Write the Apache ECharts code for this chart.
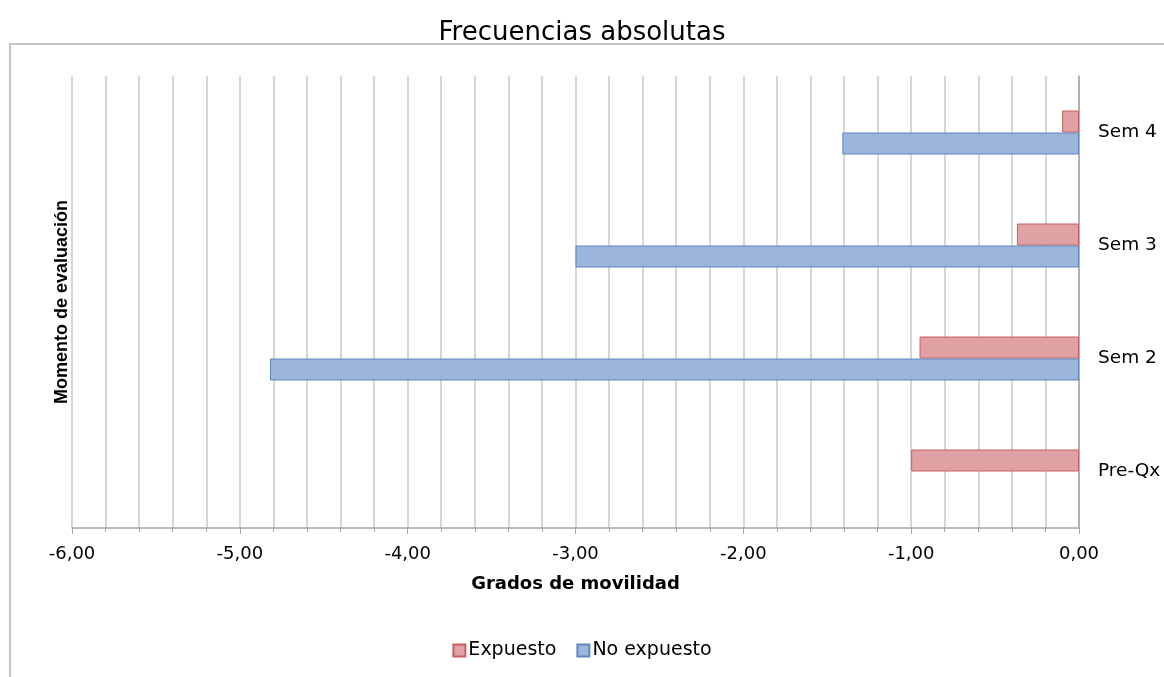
<!DOCTYPE html>
<html>
<head>
<meta charset="utf-8">
<script src="https://cdn.jsdelivr.net/npm/echarts@6/dist/echarts.min.js"></script>
<style>html,body{margin:0;padding:0;background:#fff}#c{width:1164px;height:677px}</style>
</head>
<body>
<div id="c"></div>
<script>
const categories = ['Pre-Qx', 'Sem 2', 'Sem 3', 'Sem 4'];
const expuesto = [-1.00, -0.95, -0.37, -0.10];
const noExpuesto = [null, -4.82, -3.00, -1.41];
const seriesNames = ['Expuesto', 'No expuesto'];
const xMin = -6, xMax = 0, xInterval = 1;

const chart = echarts.init(document.getElementById('c'), null, {renderer: 'canvas'});
const font = '"DejaVu Sans", Arial, sans-serif';
const fontA = '"Liberation Sans", Arial, sans-serif';
chart.setOption({
  backgroundColor: '#fff',
  animation: false,
  title: {
    text: 'Frecuencias absolutas',
    left: 'center', top: 15,
    textStyle: {fontFamily: font, fontSize: 26, fontWeight: 'normal', color: '#000'}
  },
  graphic: [
    {type: 'rect', shape: {x: 10, y: 44, width: 1170, height: 660},
     style: {fill: 'none', stroke: '#c4c4c4', lineWidth: 2}, silent: true},
    {type: 'text', x: 62, y: 302, rotation: Math.PI / 2,
     style: {text: 'Momento de evaluación', font: 'bold 18px "Liberation Sans", Arial, sans-serif',
             fill: '#000', textAlign: 'center', textVerticalAlign: 'middle'}}
  ],
  legend: {
    data: seriesNames,
    top: 636, left: 'center',
    itemWidth: 12, itemHeight: 12, itemGap: 20,
    icon: 'rect',
    textStyle: {fontFamily: font, fontSize: 19, color: '#000', padding: [0, 0, 0, -2]}
  },
  grid: {left: 72, right: 85, top: 76, bottom: 149, containLabel: false},
  xAxis: {
    type: 'value', min: xMin, max: xMax, interval: xInterval,
    name: 'Grados de movilidad', nameLocation: 'middle', nameGap: 47,
    nameTextStyle: {fontFamily: font, fontSize: 18, fontWeight: 'bold', color: '#000'},
    axisLine: {show: true, lineStyle: {color: '#a6a6a6', width: 1.5}},
    axisTick: {show: true, length: 6, lineStyle: {color: '#a6a6a6'}},
    minorTick: {show: true, splitNumber: 5, length: 4, lineStyle: {color: '#a6a6a6'}},
    axisLabel: {fontFamily: font, fontSize: 18, color: '#000', margin: 17,
                formatter: v => v.toFixed(2).replace('.', ',')},
    splitLine: {show: true, lineStyle: {color: '#c9c9c9', width: 1.5}},
    minorSplitLine: {show: true, lineStyle: {color: '#c9c9c9', width: 1.5}}
  },
  yAxis: {
    type: 'category', data: categories, position: 'right',
    axisLine: {show: true, lineStyle: {color: '#a6a6a6', width: 1.5}},
    axisTick: {show: false},
    axisLabel: {fontFamily: font, fontSize: 18.5, color: '#000', margin: 19, align: 'left'},
    splitLine: {show: false}
  },
  series: [
    {name: seriesNames[0], type: 'bar', data: expuesto, barWidth: 22, barGap: '0%',
     itemStyle: {color: '#dfa1a4', borderColor: '#c8605e', borderWidth: 1}},
    {name: seriesNames[1], type: 'bar', data: noExpuesto, barWidth: 22, barGap: '0%',
     itemStyle: {color: '#9bb6da', borderColor: '#5f86c2', borderWidth: 1}}
  ]
});
</script>
</body>
</html>
